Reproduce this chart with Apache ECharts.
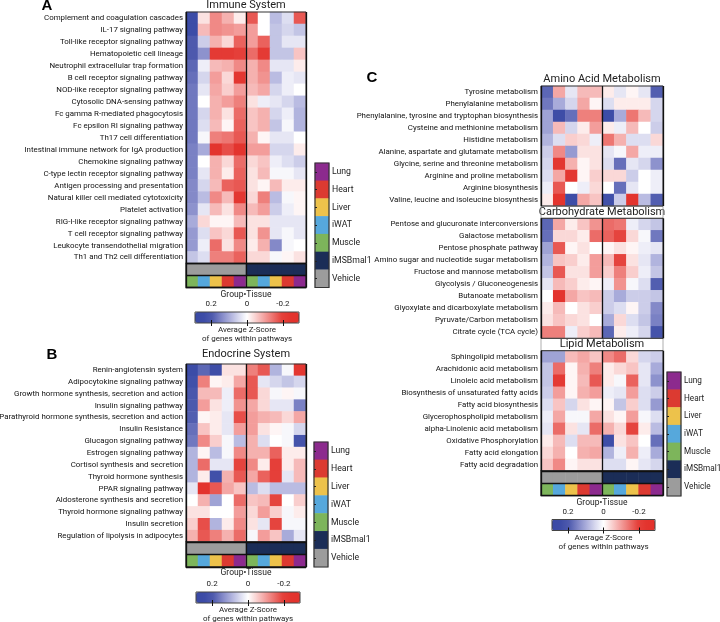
<!DOCTYPE html>
<html>
<head>
<meta charset="utf-8">
<script src="https://cdn.jsdelivr.net/npm/echarts@6/dist/echarts.min.js"></script>
<style>
  html, body { margin: 0; padding: 0; background: #fff; }
  #main { width: 720px; height: 622px; }
</style>
</head>
<body>
<div id="main"></div>
<script>
// columns: group x tissue
const tissues = ['Muscle', 'iWAT', 'Liver', 'Heart', 'Lung'];
const groups = ['Vehicle', 'iMSBmal1'];
const legendItems = ['Lung', 'Heart', 'Liver', 'iWAT', 'Muscle', 'iMSBmal1', 'Vehicle'];
const swatch = {
  Lung: '#8c2a8e', Heart: '#dc3a31', Liver: '#edc24b', iWAT: '#56a8dc',
  Muscle: '#7db55b', iMSBmal1: '#1b2d57', Vehicle: '#9c9c9c'
};
// colour ramp from -0.29 (red) to 0.29 (blue), evenly spaced stops
const scaleColors = [
  '#e3322c', '#e3342e', '#e5413b', '#ec716d', '#f3a09e', '#f9d0cf', '#ffffff',
  '#d6d7ee', '#abaedb', '#7f85c6', '#4f5bae', '#3d4ca7', '#3a4aa5'
];
const colorTicks = [0.2, 0, -0.2];

// Immune System
const immuneRows = [
  'Complement and coagulation cascades', 'IL-17 signaling pathway', 'Toll-like receptor signaling pathway',
  'Hematopoietic cell lineage', 'Neutrophil extracellular trap formation', 'B cell receptor signaling pathway',
  'NOD-like receptor signaling pathway', 'Cytosolic DNA-sensing pathway', 'Fc gamma R-mediated phagocytosis',
  'Fc epsilon RI signaling pathway', 'Th17 cell differentiation', 'Intestinal immune network for IgA production',
  'Chemokine signaling pathway', 'C-type lectin receptor signaling pathway', 'Antigen processing and presentation',
  'Natural killer cell mediated cytotoxicity', 'Platelet activation', 'RIG-I-like receptor signaling pathway',
  'T cell receptor signaling pathway', 'Leukocyte transendothelial migration', 'Th1 and Th2 cell differentiation'
];
const immuneZ = [
  [0.25, -0.03, -0.12, -0.08, -0.02, -0.17, 0.00, 0.08, 0.04, -0.17],
  [0.25, -0.07, -0.12, -0.11, -0.10, -0.10, 0.00, 0.07, 0.05, 0.07],
  [0.20, 0.06, -0.08, -0.04, -0.16, -0.10, -0.16, 0.07, 0.03, 0.03],
  [0.20, 0.13, -0.22, -0.22, -0.20, -0.15, -0.22, 0.07, 0.07, -0.06],
  [0.18, 0.02, -0.07, -0.08, -0.12, -0.08, -0.12, 0.03, 0.03, -0.02],
  [0.17, 0.05, -0.10, -0.04, -0.23, -0.08, -0.11, 0.08, 0.02, 0.03],
  [0.16, 0.03, -0.09, -0.05, -0.10, -0.07, -0.09, 0.05, 0.02, 0.00],
  [0.16, 0.00, -0.08, -0.10, -0.13, -0.03, 0.02, 0.03, 0.05, 0.08],
  [0.16, 0.05, -0.08, -0.03, -0.15, -0.06, -0.08, 0.05, 0.02, 0.09],
  [0.16, 0.04, -0.07, -0.01, -0.16, -0.06, -0.08, 0.07, 0.01, 0.09],
  [0.16, 0.01, -0.13, -0.14, -0.17, -0.08, -0.01, 0.03, 0.03, 0.00],
  [0.15, 0.10, -0.24, -0.18, -0.24, -0.10, -0.10, 0.05, 0.05, -0.02],
  [0.15, 0.00, -0.08, -0.04, -0.15, -0.04, -0.06, 0.02, 0.04, 0.06],
  [0.15, 0.03, -0.08, -0.02, -0.16, -0.03, -0.07, 0.01, 0.01, 0.03],
  [0.14, 0.05, -0.07, -0.16, -0.17, -0.03, -0.01, -0.07, -0.02, -0.02],
  [0.14, 0.08, -0.12, -0.07, -0.23, -0.04, -0.13, 0.08, 0.01, -0.01],
  [0.13, 0.03, -0.07, -0.03, -0.12, -0.07, -0.10, 0.06, 0.02, -0.01],
  [0.10, -0.04, -0.01, -0.01, -0.07, -0.03, -0.03, 0.03, 0.03, 0.03],
  [0.12, 0.04, -0.06, -0.04, -0.17, -0.03, -0.11, 0.03, 0.01, 0.03],
  [0.12, 0.02, -0.15, -0.03, -0.12, -0.02, -0.08, 0.14, 0.01, 0.00],
  [0.07, 0.04, -0.13, -0.13, -0.16, -0.04, -0.04, 0.01, -0.01, -0.03]
];

// Endocrine System
const endocrineRows = [
  'Renin-angiotensin system', 'Adipocytokine signaling pathway', 'Growth hormone synthesis, secretion and action',
  'Insulin signaling pathway', 'Parathyroid hormone synthesis, secretion and action', 'Insulin Resistance',
  'Glucagon signaling pathway', 'Estrogen signaling pathway', 'Cortisol synthesis and secretion',
  'Thyroid hormone synthesis', 'PPAR signaling pathway', 'Aldosterone synthesis and secretion',
  'Thyroid hormone signaling pathway', 'Insulin secretion', 'Regulation of lipolysis in adipocytes'
];
const endocrineZ = [
  [0.25, 0.18, 0.24, -0.03, -0.03, -0.13, -0.17, 0.09, 0.01, -0.23],
  [0.23, -0.13, -0.01, -0.02, -0.09, -0.17, 0.03, 0.05, 0.07, 0.05],
  [0.21, -0.07, -0.07, 0.02, -0.15, -0.17, -0.04, 0.01, -0.01, 0.01],
  [0.20, -0.10, -0.03, 0.02, -0.11, -0.09, -0.04, 0.03, 0.03, 0.15],
  [0.19, -0.01, -0.02, 0.03, -0.18, -0.10, -0.08, -0.07, -0.04, -0.09],
  [0.17, -0.06, -0.02, 0.03, -0.10, -0.10, -0.03, -0.01, 0.01, 0.05],
  [0.16, -0.12, -0.05, 0.01, 0.08, -0.08, 0.04, 0.00, 0.01, 0.22],
  [0.09, -0.01, 0.08, 0.01, -0.12, -0.08, -0.08, -0.16, -0.02, -0.02],
  [0.09, -0.15, 0.03, 0.03, -0.19, -0.12, -0.02, -0.20, -0.02, -0.07],
  [0.09, -0.02, 0.23, -0.08, -0.17, -0.09, -0.16, -0.20, 0.03, -0.07],
  [0.03, -0.26, -0.17, -0.09, -0.06, 0.08, 0.04, 0.08, 0.08, 0.08],
  [0.00, -0.08, 0.11, 0.00, -0.15, -0.06, -0.07, -0.19, 0.00, -0.05],
  [-0.03, -0.03, 0.00, 0.00, -0.10, -0.04, -0.10, -0.05, 0.01, -0.02],
  [-0.05, -0.18, 0.09, -0.02, -0.12, -0.03, 0.03, -0.19, 0.01, 0.01],
  [-0.08, -0.17, -0.13, -0.08, -0.15, 0.01, -0.10, -0.06, 0.10, 0.03]
];

// Metabolism
const aminoRows = [
  'Tyrosine metabolism', 'Phenylalanine metabolism', 'Phenylalanine, tyrosine and tryptophan biosynthesis',
  'Cysteine and methionine metabolism', 'Histidine metabolism', 'Alanine, aspartate and glutamate metabolism',
  'Glycine, serine and threonine metabolism', 'Arginine and proline metabolism', 'Arginine biosynthesis',
  'Valine, leucine and isoleucine biosynthesis'
];
const aminoZ = [
  [0.18, -0.09, 0.03, -0.07, -0.07, -0.02, 0.03, -0.01, 0.03, 0.19],
  [0.16, 0.10, 0.05, -0.09, -0.01, 0.04, -0.02, -0.02, -0.02, 0.05],
  [0.11, 0.24, 0.17, -0.13, -0.13, 0.25, 0.10, -0.14, -0.07, 0.05],
  [0.11, -0.07, 0.05, -0.02, -0.10, -0.02, 0.02, -0.07, 0.00, 0.06],
  [0.09, 0.04, -0.05, -0.04, 0.02, -0.14, -0.08, 0.04, 0.04, -0.04],
  [0.06, -0.12, 0.12, -0.03, -0.03, 0.03, 0.01, -0.09, 0.02, 0.02],
  [0.05, -0.23, -0.08, -0.01, -0.03, 0.04, 0.17, 0.03, 0.05, 0.13],
  [0.04, -0.09, -0.23, -0.01, -0.05, -0.04, -0.04, 0.06, 0.00, 0.02],
  [0.02, -0.17, 0.00, 0.02, -0.04, 0.00, 0.17, 0.03, 0.00, 0.02],
  [-0.02, -0.24, 0.24, -0.09, -0.06, 0.23, 0.06, -0.25, 0.08, 0.19]
];
const carbRows = [
  'Pentose and glucuronate interconversions', 'Galactose metabolism', 'Pentose phosphate pathway',
  'Amino sugar and nucleotide sugar metabolism', 'Fructose and mannose metabolism', 'Glycolysis / Gluconeogenesis',
  'Butanoate metabolism', 'Glyoxylate and dicarboxylate metabolism', 'Pyruvate/Carbon metabolism',
  'Citrate cycle (TCA cycle)'
];
const carbZ = [
  [0.18, -0.09, -0.02, -0.06, -0.11, -0.15, -0.14, 0.02, 0.05, 0.07],
  [0.17, -0.04, -0.04, -0.02, -0.15, -0.16, -0.19, -0.04, 0.01, 0.16],
  [0.11, -0.17, -0.01, -0.03, 0.00, -0.01, -0.03, -0.01, 0.02, 0.03],
  [0.09, -0.06, -0.05, -0.02, -0.10, -0.07, -0.19, -0.03, 0.03, 0.09],
  [0.07, -0.17, -0.03, -0.03, -0.10, -0.05, -0.13, -0.05, 0.02, 0.07],
  [0.03, -0.07, -0.05, -0.02, -0.01, 0.02, -0.11, 0.01, 0.04, 0.19],
  [0.00, -0.24, -0.09, -0.06, -0.07, 0.06, 0.10, 0.06, 0.06, 0.07],
  [-0.02, -0.07, 0.00, -0.03, -0.05, 0.06, 0.04, -0.01, 0.06, 0.14],
  [-0.03, -0.06, -0.04, -0.03, 0.00, 0.10, -0.04, 0.04, 0.07, 0.15],
  [-0.13, -0.13, 0.02, -0.05, -0.07, 0.18, -0.02, 0.02, 0.05, 0.22]
];
const lipidRows = [
  'Sphingolipid metabolism', 'Arachidonic acid metabolism', 'Linoleic acid metabolism',
  'Biosynthesis of unsaturated fatty acids', 'Fatty acid biosynthesis', 'Glycerophospholipid metabolism',
  'alpha-Linolenic acid metabolism', 'Oxidative Phosphorylation', 'Fatty acid elongation', 'Fatty acid degradation'
];
const lipidZ = [
  [0.11, 0.11, -0.07, -0.09, -0.06, -0.12, -0.15, -0.04, 0.05, 0.06],
  [0.07, -0.15, -0.01, -0.08, -0.13, -0.02, -0.04, -0.06, 0.03, 0.10],
  [0.07, -0.22, -0.01, -0.07, -0.17, -0.02, 0.01, -0.16, 0.03, 0.13],
  [0.06, -0.10, -0.01, -0.08, -0.10, 0.02, 0.03, -0.10, 0.04, 0.06],
  [0.04, -0.06, 0.05, -0.03, -0.01, -0.01, 0.07, -0.05, 0.04, 0.12],
  [0.02, -0.09, 0.01, 0.01, -0.09, -0.03, -0.01, -0.10, 0.01, 0.04],
  [0.03, -0.15, -0.03, 0.03, -0.15, -0.08, -0.04, -0.19, -0.02, 0.08],
  [-0.02, -0.07, 0.04, -0.07, -0.07, 0.24, -0.03, -0.06, 0.00, 0.17],
  [-0.04, -0.08, 0.00, -0.08, -0.09, 0.09, 0.02, -0.08, 0.02, 0.10],
  [-0.06, -0.12, -0.01, -0.03, -0.03, 0.04, 0.04, -0.01, 0.03, 0.05]
];

const columns = [];
groups.forEach(g => tissues.forEach(t => columns.push(g + ' ' + t)));

const FONT = 'Roboto';
const grid = [], xAxis = [], yAxis = [], series = [], title = [], visualMap = [];

function addGrid(box, xOpt, yOpt, extra) {
  const gi = grid.length;
  grid.push(Object.assign({
    left: box[0], top: box[1], width: box[2], height: box[3],
    containLabel: false, outerBoundsMode: 'none'
  }, extra || {}));
  xAxis.push(Object.assign({ gridIndex: gi }, xOpt));
  yAxis.push(Object.assign({ gridIndex: gi }, yOpt));
  return { gi: gi, xi: xAxis.length - 1, yi: yAxis.length - 1 };
}

// split lines at the left edge and between the two groups (the band fix adds the right edge)
function colAxis() {
  return {
    type: 'category', data: columns,
    axisLine: { show: false }, axisTick: { show: false }, axisLabel: { show: false },
    splitLine: {
      show: true,
      interval: (i) => i === 0 || i === tissues.length,
      lineStyle: { color: '#111', width: 1.3 }
    },
    z: 10
  };
}

function heatGrid(box, rows, values) {
  const ax = addGrid(box, colAxis(), {
    type: 'category', data: rows, inverse: true,
    axisLine: { show: false }, axisTick: { show: false },
    axisLabel: { interval: 0, fontSize: 7.9, color: '#111', margin: 3, fontFamily: FONT }
  }, { show: true, borderColor: '#333', borderWidth: 1, z: 10 });
  const data = [];
  values.forEach((row, r) => row.forEach((v, c) => data.push([c, r, v])));
  series.push({
    type: 'heatmap', xAxisIndex: ax.xi, yAxisIndex: ax.yi, data: data,
    emphasis: { disabled: true }, progressive: 0
  });
  return series.length - 1;
}

function bandGrid(box, text) {
  addGrid(box, { type: 'category', data: ['a'], show: false }, { type: 'category', data: ['a'], show: false },
    { show: true, borderColor: '#999', borderWidth: 0.8, z: 9 });
  title.push(label(text, box[0] + box[2] / 2, box[1] + box[3] / 2, 11));
}

function annotGrid(box) {
  const ax = addGrid(box, colAxis(), {
    type: 'category', data: ['Group', 'Tissue'], inverse: true,
    axisLine: { show: false }, axisTick: { show: false }, axisLabel: { show: false },
    splitLine: { show: true, interval: () => true, lineStyle: { color: '#111', width: 1.3 } },
    z: 10
  }, { show: true, borderColor: '#222', borderWidth: 1.3, z: 10 });
  const data = [];
  groups.forEach((g, gi) => tissues.forEach((t, ti) => {
    const c = gi * tissues.length + ti;
    data.push({ value: [c, 0, 0], itemStyle: { color: swatch[g] } });
    data.push({ value: [c, 1, 0], itemStyle: { color: swatch[t] } });
  }));
  series.push({
    type: 'heatmap', xAxisIndex: ax.xi, yAxisIndex: ax.yi, data: data,
    emphasis: { disabled: true }, progressive: 0
  });
  return series.length - 1;
}

function legendGrid(box, fontSize) {
  const ax = addGrid(box, { type: 'category', data: ['key'], show: false }, {
    type: 'category', data: legendItems, inverse: true, position: 'right',
    axisLine: { show: false }, axisTick: { show: false },
    axisLabel: { interval: 0, fontSize: fontSize, color: '#222', margin: 3, fontFamily: FONT }
  }, { show: true, borderColor: '#333', borderWidth: 1.2, z: 10 });
  // small tick marks on the left edge of the key
  yAxis.push({
    gridIndex: ax.gi, type: 'category', data: legendItems, inverse: true, position: 'left',
    axisLine: { show: false }, axisLabel: { show: false },
    axisTick: { show: true, inside: true, alignWithLabel: true, length: 2, lineStyle: { color: '#222' } },
    z: 10
  });
  series.push({
    type: 'heatmap', xAxisIndex: ax.xi, yAxisIndex: ax.yi,
    data: legendItems.map((k, i) => ({ value: [0, i, 0], itemStyle: { color: swatch[k] } })),
    emphasis: { disabled: true }, progressive: 0
  });
  return series.length - 1;
}

function colorbar(box, seriesIdx) {
  visualMap.push({
    type: 'continuous', seriesIndex: seriesIdx, min: -0.29, max: 0.29,
    orient: 'horizontal', inverse: true, left: box[0], top: box[1],
    itemWidth: box[3], itemHeight: box[2], calculable: false, hoverLink: false,
    padding: 0, text: null, inRange: { color: scaleColors }
  });
  const ax = addGrid(box, {
    type: 'value', min: -0.29, max: 0.29, inverse: true, position: 'top',
    axisLine: { show: false },
    axisTick: { show: true, inside: true, length: 3, customValues: colorTicks, lineStyle: { color: '#111' } },
    axisLabel: { customValues: colorTicks, fontSize: 8, color: '#222', margin: 4, fontFamily: FONT },
    splitLine: { show: false }, z: 10
  }, { type: 'value', show: false, min: 0, max: 1 }, { show: true, borderColor: '#444', borderWidth: 1, z: 10 });
  xAxis.push({
    gridIndex: ax.gi, type: 'value', min: -0.29, max: 0.29, inverse: true, position: 'bottom',
    axisLine: { show: false }, axisLabel: { show: false }, splitLine: { show: false },
    axisTick: { show: true, inside: true, length: 3, customValues: colorTicks, lineStyle: { color: '#111' } },
    z: 10
  });
  const cx = box[0] + box[2] / 2;
  title.push(label('Average Z-Score', cx, box[1] + box[3] + 7, 8));
  title.push(label('of genes within pathways', cx, box[1] + box[3] + 16, 8));
}

function label(text, x, y, size, bold) {
  return {
    text: text, left: x, top: y, textAlign: 'center', textVerticalAlign: 'middle', padding: 0,
    textStyle: {
      fontSize: size, fontWeight: bold ? 'bold' : 'normal', color: bold ? '#000' : '#222',
      fontFamily: bold ? 'Liberation Sans' : FONT
    }
  };
}

// Panel A
const sA = heatGrid([186, 12, 120, 251.5], immuneRows, immuneZ);
annotGrid([186, 263.5, 120, 24]);
legendGrid([315, 163, 14, 124.5], 8.7);
colorbar([195, 312, 104, 11], sA);
title.push(label('A', 47, 5.5, 15, true));
title.push(label('Immune System', 246, 5, 11));
title.push(label('Group\u2022Tissue', 246, 295, 8.5));

// Panel B
const sB = heatGrid([186, 364, 120, 178], endocrineRows, endocrineZ);
annotGrid([186, 542, 120, 25]);
legendGrid([314, 442, 14, 125], 8.7);
colorbar([196, 592, 104, 11], sB);
title.push(label('B', 52, 354.5, 15, true));
title.push(label('Endocrine System', 246, 354.5, 11));
title.push(label('Group\u2022Tissue', 246, 573, 8.5));

// Panel C
const sC1 = heatGrid([541, 86, 122, 120], aminoRows, aminoZ);
bandGrid([541, 206, 122, 12.3], 'Carbohydrate Metabolism');
const sC2 = heatGrid([541, 218.3, 122, 120], carbRows, carbZ);
bandGrid([541, 338.3, 122, 12.4], 'Lipid Metabolism');
const sC3 = heatGrid([541, 350.7, 122, 120.3], lipidRows, lipidZ);
annotGrid([541, 471, 122, 24.7]);
legendGrid([667, 372, 14, 124], 8.2);
colorbar([552, 519.5, 103, 11], [sC1, sC2, sC3]);
title.push(label('C', 372, 78, 15, true));
title.push(label('Amino Acid Metabolism', 602, 79, 11));
title.push(label('Group\u2022Tissue', 602, 503, 8.5));

const chart = echarts.init(document.getElementById('main'), null, { renderer: 'canvas' });
chart.setOption({
  animation: false,
  backgroundColor: '#ffffff',
  textStyle: { fontFamily: FONT },
  title: title,
  grid: grid,
  xAxis: xAxis,
  yAxis: yAxis,
  visualMap: visualMap,
  series: series
});
</script>
</body>
</html>
